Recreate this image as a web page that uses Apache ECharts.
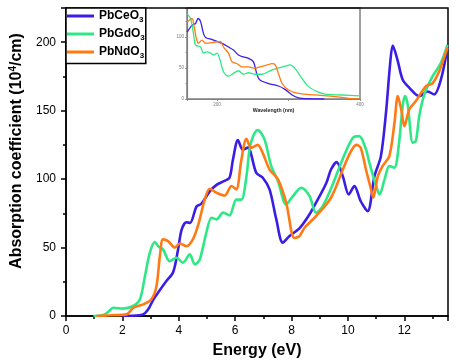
<!DOCTYPE html>
<html>
<head>
<meta charset="utf-8">
<script src="https://cdn.jsdelivr.net/npm/echarts@6/dist/echarts.min.js"></script>
<style>html,body{margin:0;padding:0;background:#fff}#c{width:460px;height:364px}</style>
</head>
<body>
<div id="c"></div>
<script>
// ---- main chart data: Energy (eV) vs absorption coefficient (10^4/cm)
const seriesNames = ['PbCeO3', 'PbGdO3', 'PbNdO3'];
const xTickLabels = [0, 2, 4, 6, 8, 10, 12];
const yTickLabels = [0, 50, 100, 150, 200];

const ceE = [2.0, 2.6, 2.8, 2.95, 3.1, 3.3, 3.56, 3.8, 3.97, 4.1, 4.27, 4.4, 4.63, 4.8, 5.1, 5.35, 5.6, 5.8, 5.92, 6.1, 6.27, 6.45, 6.75, 6.98, 7.22, 7.46, 7.69, 7.93, 8.28, 8.6, 8.87, 9.23, 9.4, 9.6, 9.82, 10.03, 10.23, 10.45, 10.7, 10.94, 11.17, 11.35, 11.5, 11.59, 11.76, 11.94, 12.18, 12.53, 12.83, 13.06, 13.3, 13.53];
const ceA = [0, 0.5, 2, 6, 12, 18, 25.5, 32, 48, 63, 68.5, 68, 80, 82, 91, 96, 98.5, 101, 114, 128.5, 121.5, 123, 104.5, 101, 92.5, 70.6, 53.6, 58.4, 64, 73, 82.8, 97, 107, 112.4, 102, 88.8, 94.9, 84, 76.6, 102, 116.8, 148.5, 185, 197.6, 187, 172.8, 166.7, 160.6, 164, 161.8, 172.8, 196];

const gdE = [0.97, 1.3, 1.5, 1.67, 2.03, 2.38, 2.62, 2.8, 2.97, 3.15, 3.27, 3.44, 3.68, 3.92, 4.15, 4.39, 4.57, 4.74, 4.98, 5.16, 5.34, 5.57, 5.8, 6.04, 6.22, 6.4, 6.51, 6.63, 6.8, 7.04, 7.28, 7.52, 7.81, 8.05, 8.34, 8.64, 8.87, 9.1, 9.44, 9.8, 10.17, 10.4, 10.64, 10.76, 11.0, 11.12, 11.3, 11.47, 11.65, 11.8, 11.94, 12.02, 12.12, 12.3, 12.41, 12.53, 12.71, 13.0, 13.3, 13.53];
const gdA = [0, 0.5, 3, 6, 5.4, 7.3, 12, 29, 46, 54, 51, 48.7, 40, 42.6, 39, 45, 37.7, 41, 61, 71.8, 70.6, 75.5, 73.5, 85, 85, 102, 121.7, 131, 135.8, 129, 109.5, 98.5, 81.5, 87.6, 93.7, 87.6, 75.5, 80, 95, 114, 130, 131.4, 121.7, 112, 95, 88.8, 99.8, 109.5, 108.3, 124, 153, 160.6, 154.5, 126.6, 127.7, 146, 161.8, 175, 185, 198];

const ndE = [1.08, 1.56, 2.15, 2.38, 2.74, 3.03, 3.21, 3.33, 3.44, 3.62, 3.86, 4.04, 4.27, 4.5, 4.69, 4.92, 5.1, 5.34, 5.63, 5.87, 6.04, 6.22, 6.4, 6.57, 6.8, 6.98, 7.22, 7.52, 7.81, 8.1, 8.28, 8.46, 8.87, 9.4, 9.82, 10.1, 10.3, 10.45, 10.64, 10.82, 10.9, 11.06, 11.23, 11.47, 11.65, 11.77, 11.9, 12.0, 12.18, 12.41, 12.77, 13.0, 13.24, 13.53];
const ndA = [0, 0.5, 1.2, 6, 8.5, 12.2, 22, 43.8, 56, 54.7, 50, 53, 51, 56, 66.5, 85, 93, 90, 88, 95, 92.5, 114, 129.5, 123, 125, 119, 107, 99.8, 82.8, 57, 58.4, 64.5, 73, 86.4, 107, 120, 125, 123, 107, 92.5, 86.4, 102, 109.5, 116.8, 141, 160.6, 150, 138.7, 151, 157, 168, 170, 179, 196];

// ---- inset data: wavelength (nm) vs absorption
const insetXLabels = [200, 400];
const insetYLabels = [0, 50, 100];
const ceWl = [158, 165, 170, 173.5, 177, 181, 184, 193, 207, 216, 223, 230, 237, 244, 251, 256, 260, 272, 286, 295, 305, 314, 328, 350];
const ceWa = [108, 119, 122, 130, 125, 106, 99.5, 96, 90, 84, 79, 71, 68, 65.6, 60, 39, 30.6, 25, 21, 15.6, 6.5, 2, 0.5, 0];
const gdWl = [158, 163, 167, 170, 177, 181, 186, 191, 195, 200, 205, 209, 216, 223, 230, 237, 244, 253, 263, 274, 284, 295, 302, 309, 319, 328, 340, 351, 374, 400];
const gdWa = [138, 130, 106, 87, 84, 74, 76, 74, 71, 74, 60, 44, 37, 41.5, 45.6, 40, 42.4, 40, 40, 45.6, 49.5, 53, 55, 49.5, 33, 20, 12, 8, 6.5, 5];
const ndWl = [158, 160, 165, 168, 171, 174, 179, 184, 193, 200, 205, 209, 216, 221, 228, 235, 244, 253, 260, 270, 277, 281, 286, 291, 300, 314, 337, 365, 384, 400];
const ndWa = [125, 126, 130, 117, 98, 90, 95, 90, 91, 92.5, 92.5, 84, 74, 60, 57, 52, 52, 49.5, 52, 55, 57, 56, 41, 25, 14.5, 9, 6.5, 4, 1, 0.3];

const colors = ['#3b1ee6', '#2ee886', '#ff7a14'];
const FONT = 'Arial, "Liberation Sans", sans-serif';
const zip = (a, b) => a.map((v, i) => [v, b[i]]);

const mainSets = [[ceE, ceA], [gdE, gdA], [ndE, ndA]];
const insetSets = [[ceWl, ceWa], [gdWl, gdWa], [ndWl, ndWa]];

const series = [];
mainSets.forEach((s, i) => series.push({
  name: seriesNames[i], type: 'line', xAxisIndex: 0, yAxisIndex: 0,
  data: zip(s[0], s[1]), symbol: 'none', showSymbol: false, smooth: 0.3, color: colors[i],
  itemStyle: { color: colors[i] },
  lineStyle: { width: 2.6, color: colors[i] }, z: 3
}));
insetSets.forEach((s, i) => series.push({
  name: seriesNames[i], type: 'line', xAxisIndex: 2, yAxisIndex: 2,
  data: zip(s[0], s[1]), symbol: 'none', showSymbol: false, smooth: 0.3, color: colors[i],
  itemStyle: { color: colors[i] },
  lineStyle: { width: 1.3, color: colors[i] }, z: 3
}));

const rich = {
  a: { fontSize: 12, fontWeight: 'bold', fontFamily: FONT, color: '#000' },
  s: { fontSize: 8, fontWeight: 'bold', fontFamily: FONT, color: '#000', padding: [7, 0, 0, 0] }
};

const chart = echarts.init(document.getElementById('c'), null, { renderer: 'canvas' });
chart.setOption({
  animation: false,
  backgroundColor: '#fff',
  grid: [
    { left: 66, right: 12, top: 8, bottom: 47, show: true, borderColor: '#000', borderWidth: 1.5, z: 1 },
    { left: 187, right: 100, top: 8, bottom: 265, show: true, borderColor: '#808080', borderWidth: 1.5, backgroundColor: '#fff', z: 0 }
  ],
  legend: {
    data: seriesNames, orient: 'vertical', left: 66, top: 8,
    backgroundColor: '#fff', borderColor: '#000', borderWidth: 1.5,
    padding: [2, 1, 4, 1], itemWidth: 27, itemHeight: 14, itemGap: 4.5,
    icon: 'path://M0,0 L27,0 L27,3 L0,3 Z',
    formatter: n => '{a|' + n.slice(0, -1) + '}{s|' + n.slice(-1) + '}',
    textStyle: { rich: rich, fontSize: 12, fontWeight: 'bold', fontFamily: FONT }
  },
  xAxis: [
    {
      gridIndex: 0, type: 'value', min: 0, max: 13.55, interval: 2, position: 'bottom',
      name: 'Energy (eV)', nameLocation: 'middle', nameGap: 27,
      nameTextStyle: { fontSize: 16, fontWeight: 'bold', fontFamily: FONT, color: '#000' },
      axisLine: { onZero: false, lineStyle: { color: '#000', width: 1.5 } },
      axisTick: { length: 5, lineStyle: { color: '#000', width: 1.5 } },
      axisLabel: { margin: 9, fontSize: 12, fontFamily: FONT, color: '#000',
        formatter: v => (xTickLabels.indexOf(v) >= 0 ? String(v) : '') },
      splitLine: { show: false }
    },
    {
      gridIndex: 0, type: 'value', min: 0, max: 13.55, interval: 1, position: 'bottom',
      axisLine: { show: false }, axisLabel: { show: false }, splitLine: { show: false },
      axisTick: { length: 3, lineStyle: { color: '#000', width: 1.5 } }
    },
    {
      gridIndex: 1, type: 'value', min: 158, max: 400, splitNumber: 2, position: 'bottom',
      name: 'Wavelength (nm)', nameLocation: 'middle', nameGap: 5,
      nameTextStyle: { fontSize: 5.2, fontWeight: 'bold', fontFamily: FONT, color: '#222' },
      axisLine: { onZero: false, lineStyle: { color: '#808080', width: 1.2 } },
      axisTick: { length: 2, lineStyle: { color: '#808080', width: 0.8 } },
      axisLabel: { margin: 3, fontSize: 4.5, fontFamily: FONT, color: '#777',
        formatter: v => (insetXLabels.indexOf(v) >= 0 ? String(v) : '') },
      splitLine: { show: false }
    }
  ],
  yAxis: [
    {
      gridIndex: 0, type: 'value', min: 0, max: 225, interval: 50, position: 'left',
      axisLine: { onZero: false, lineStyle: { color: '#000', width: 1.5 } },
      axisTick: { length: 5, lineStyle: { color: '#000', width: 1.5 } },
      axisLabel: { margin: 10, fontSize: 12, fontFamily: FONT, color: '#000',
        formatter: v => (yTickLabels.indexOf(v) >= 0 ? String(v) : '') },
      splitLine: { show: false }
    },
    {
      gridIndex: 0, type: 'value', min: 0, max: 225, interval: 25, position: 'left',
      axisLine: { show: false }, axisLabel: { show: false }, splitLine: { show: false },
      axisTick: { length: 3, lineStyle: { color: '#000', width: 1.5 } }
    },
    {
      gridIndex: 1, type: 'value', min: 0, max: 147, interval: 50, position: 'left',
      axisLine: { onZero: false, lineStyle: { color: '#808080', width: 1.2 } },
      axisTick: { length: 2, lineStyle: { color: '#808080', width: 0.8 } },
      minorTick: { show: true, splitNumber: 2, length: 1.5, lineStyle: { color: '#808080', width: 0.8 } },
      axisLabel: { margin: 3, fontSize: 4.5, fontFamily: FONT, color: '#777',
        formatter: v => (insetYLabels.indexOf(v) >= 0 ? String(v) : '') },
      splitLine: { show: false }
    }
  ],
  graphic: [{
    type: 'text', x: 17, y: 151, rotation: Math.PI / 2,
    style: {
      text: '{a|Absorption coefficient (10}{s|4}{a|/cm)}',
      textAlign: 'center', textVerticalAlign: 'middle', align: 'center', verticalAlign: 'middle',
      rich: {
        a: { fontSize: 16, fontWeight: 'bold', fontFamily: FONT, fill: '#000', lineHeight: 18 },
        s: { fontSize: 10, fontWeight: 'bold', fontFamily: FONT, fill: '#000', lineHeight: 18, verticalAlign: 'top', padding: [0, 0, 6, 0] }
      }
    }
  }],
  series: series
});
</script>
</body>
</html>
